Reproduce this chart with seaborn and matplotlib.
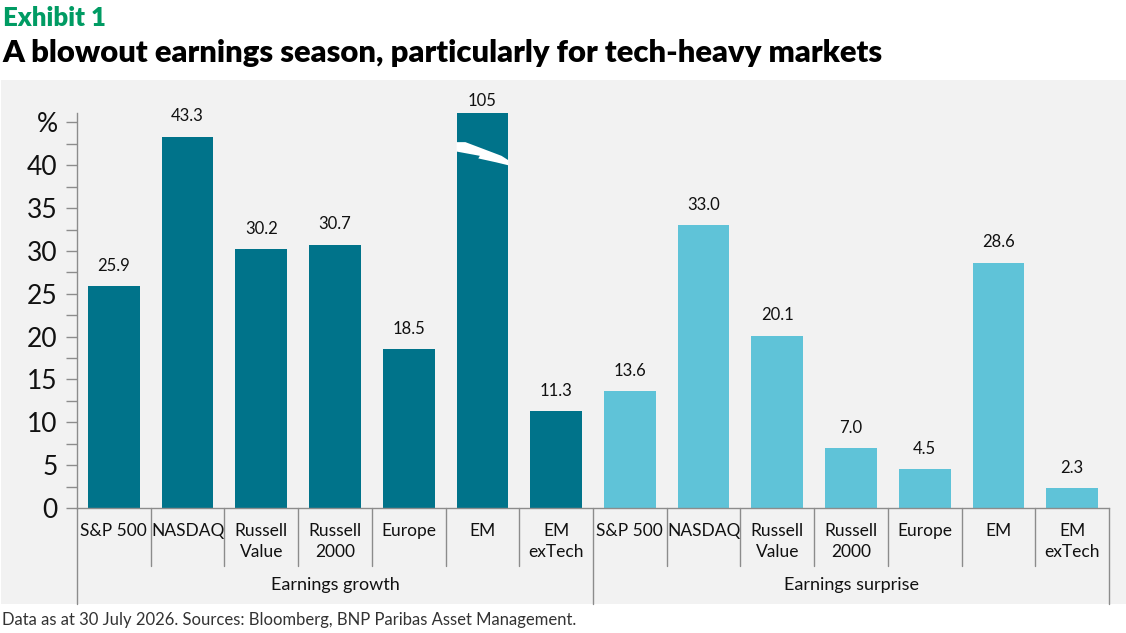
import numpy as np
import pandas as pd
import seaborn as sns
import matplotlib.pyplot as plt
from matplotlib.patches import Rectangle, Polygon

# data
groups = ["Earnings growth", "Earnings surprise"]
markets = ["S&P 500", "NASDAQ", "Russell\nValue", "Russell\n2000", "Europe", "EM", "EM\nexTech"]
growth = [25.9, 43.3, 30.2, 30.7, 18.5, 105, 11.3]
surprise = [13.6, 33.0, 20.1, 7.0, 4.5, 28.6, 2.3]

YMAX = 46.1  # axis is cut here, the EM growth bar is broken

rows = []
for g, vals in zip(groups, [growth, surprise]):
    for m, v in zip(markets, vals):
        rows.append({"group": g, "market": m, "key": g + "|" + m,
                     "value": v, "shown": min(v, YMAX)})
df = pd.DataFrame(rows)

sns.set_theme(style="white")
plt.rcParams["font.family"] = ["Lato", "DejaVu Sans"]

fig = plt.figure(figsize=(11.26, 6.33), dpi=100)
bg = Rectangle((0.001, 29 / 633), 0.999, (604 - 80) / 633,
               transform=fig.transFigure, facecolor="#f2f2f2",
               edgecolor="none", zorder=-10)
fig.patches.append(bg)
ax = fig.add_axes([77 / 1126, 125 / 633, (1109 - 77) / 1126, (508 - 113) / 633])
ax.set_facecolor("none")
ax.set_zorder(2)

pal = {"Earnings growth": "#00738a", "Earnings surprise": "#5fc3d8"}
sns.barplot(data=df, x="key", y="shown", hue="group", palette=pal, dodge=False,
            width=0.7, legend=False, ax=ax, saturation=1, order=list(df["key"]),
            linewidth=0, edgecolor="none")

ax.set_xlim(-0.5, len(df) - 0.5)
ax.set_ylim(0, YMAX)

# value labels
for i, (s, v) in enumerate(zip(df["shown"], df["value"])):
    txt = f"{v:.0f}" if v > YMAX else f"{v:.1f}"
    off = 3 if v > YMAX else 9
    ax.annotate(txt, (i, s), xytext=(0, off), textcoords="offset points",
                ha="center", va="bottom", fontsize=12, color="#111111",
                annotation_clip=False)

# break mark on the EM growth bar
bi = int(np.argmax(df["value"].values))
x0, w = bi - 0.35, 0.7
fx = [0, 0.17, 0.87, 1.0, 1.0, 0.76, 0.42, 0.45, 0]
fy = [42.7, 42.7, 41.1, 40.6, 40.0, 40.35, 40.8, 41.1, 41.6]
ax.add_patch(Polygon(list(zip([x0 + w * f for f in fx], fy)), closed=True,
                     facecolor="white", edgecolor="none", zorder=5))

# y axis
yt = np.arange(0, 47, 2.5)
ylab = []
for t in yt:
    if t == 45:
        ylab.append("%")
    elif t % 5 == 0:
        ylab.append(f"{t:.0f}")
    else:
        ylab.append("")
ax.set_yticks(yt)
ax.set_yticklabels(ylab, fontsize=19, color="#111111")
ax.tick_params(axis="y", length=8, width=1, color="#8c8c8c", pad=6, left=True)

# x axis
ax.set_xticks(range(len(df)))
ax.set_xticklabels(list(df["market"]), fontsize=12.5, color="#111111", va="top",
                   linespacing=1.4)
ax.tick_params(axis="x", length=0, pad=11)
ax.set_xlabel("")
ax.set_ylabel("")

for side in ["top", "right"]:
    ax.spines[side].set_visible(False)
for side in ["left", "bottom"]:
    ax.spines[side].set_color("#8c8c8c")
    ax.spines[side].set_linewidth(1)

trans = ax.get_xaxis_transform()
n = len(markets)
for b in range(len(df) + 1):
    outer = b % n == 0
    ax.plot([b - 0.5, b - 0.5], [0, -0.243 if outer else -0.147], transform=trans,
            color="#8c8c8c", lw=1, clip_on=False)
for gi, g in enumerate(groups):
    ax.text(gi * n + (n - 1) / 2, -0.195, g, transform=trans, ha="center",
            va="center", fontsize=13, color="#111111")

fig.text(0.003, 1 - 26 / 633, "Exhibit 1", fontsize=18.5, fontweight="heavy",
         color="#009b63", va="baseline", ha="left")
fig.text(0.002, 1 - 62 / 633, "A blowout earnings season, particularly for tech-heavy markets",
         fontsize=22.3, fontweight="heavy", color="#000000", va="baseline", ha="left")
fig.text(0.002, 1 - 620 / 633,
         "Data as at 30 July 2026. Sources: Bloomberg, BNP Paribas Asset Management.",
         fontsize=12, color="#333333", va="center", ha="left")

fig.savefig("out.png", dpi=100)
